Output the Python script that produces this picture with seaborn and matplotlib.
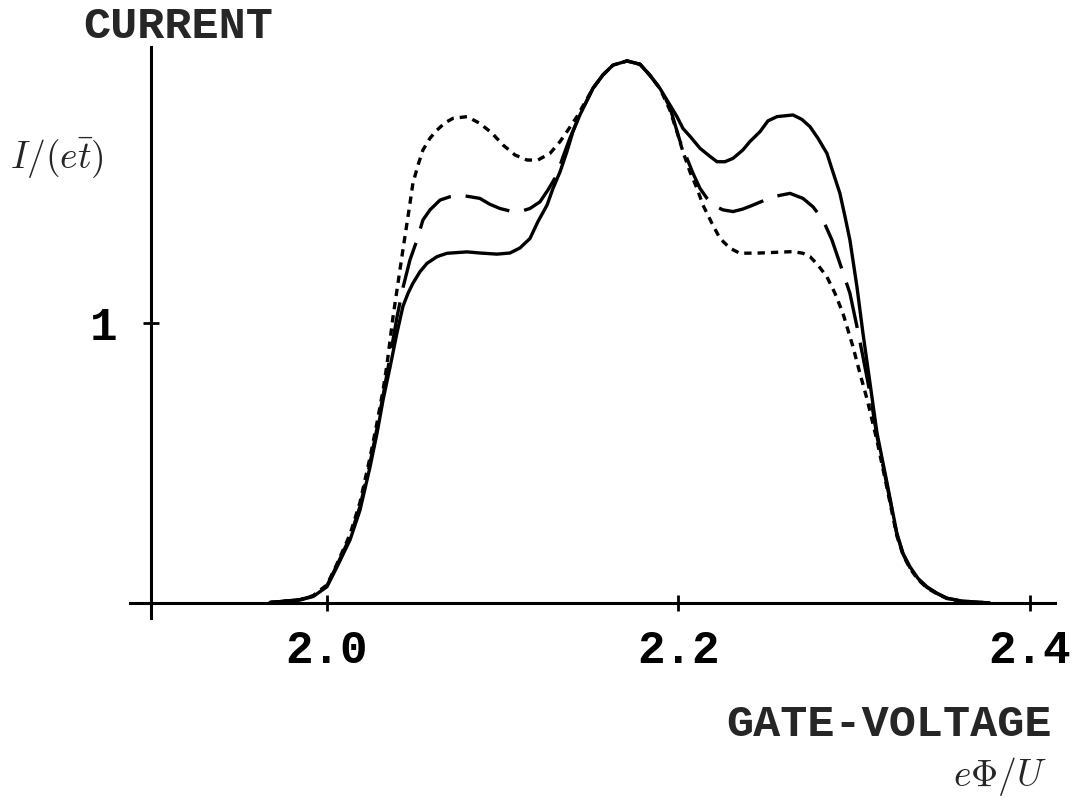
import matplotlib
matplotlib.use("Agg")
import matplotlib.pyplot as plt
import seaborn as sns
import pandas as pd

# Gate-voltage sweep values (e*Phi/U) and normalised current I/(e t) for three cases
x_solid = [1.9677, 1.9734, 1.9848, 1.9922, 2.0001, 2.0058, 2.0132, 2.0189, 2.0246, 2.0286,
           2.0320, 2.0360, 2.0399, 2.0433, 2.0462, 2.0490, 2.0530, 2.0570, 2.0627, 2.0684,
           2.0798, 2.0871, 2.0968, 2.1042, 2.1099, 2.1156, 2.1201, 2.1253, 2.1287, 2.1327,
           2.1366, 2.1400, 2.1440, 2.1514, 2.1571, 2.1628, 2.1708, 2.1782, 2.1838, 2.1895,
           2.1952, 2.1992, 2.2026, 2.2066, 2.2123, 2.2180, 2.2220, 2.2265, 2.2311, 2.2367,
           2.2407, 2.2464, 2.2510, 2.2561, 2.2652, 2.2703, 2.2749, 2.2794, 2.2845, 2.2879,
           2.2919, 2.2948, 2.2976, 2.3016, 2.3050, 2.3090, 2.3130, 2.3187, 2.3243, 2.3278,
           2.3317, 2.3363, 2.3414, 2.3471, 2.3528, 2.3602, 2.3699, 2.3772]
y_solid = [0.002, 0.005, 0.011, 0.023, 0.058, 0.129, 0.225, 0.332, 0.486, 0.607,
           0.725, 0.843, 0.964, 1.059, 1.106, 1.142, 1.183, 1.213, 1.237, 1.249,
           1.254, 1.250, 1.246, 1.250, 1.268, 1.302, 1.362, 1.421, 1.481, 1.540,
           1.612, 1.683, 1.743, 1.838, 1.886, 1.921, 1.936, 1.924, 1.885, 1.838,
           1.779, 1.737, 1.695, 1.667, 1.624, 1.595, 1.576, 1.576, 1.588, 1.618,
           1.648, 1.683, 1.722, 1.737, 1.743, 1.727, 1.701, 1.660, 1.606, 1.540,
           1.463, 1.380, 1.296, 1.129, 0.964, 0.786, 0.607, 0.429, 0.249, 0.177,
           0.130, 0.088, 0.058, 0.035, 0.017, 0.008, 0.003, 0.000]

x_dashed = [1.9677, 1.9734, 1.9848, 1.9922, 2.0001, 2.0058, 2.0132, 2.0189, 2.0246, 2.0286,
            2.0320, 2.0360, 2.0399, 2.0433, 2.0473, 2.0513, 2.0547, 2.0587, 2.0644, 2.0701,
            2.0758, 2.0871, 2.0928, 2.0985, 2.1042, 2.1099, 2.1156, 2.1213, 2.1258, 2.1309,
            2.1344, 2.1383, 2.1440, 2.1514, 2.1571, 2.1628, 2.1708, 2.1782, 2.1838, 2.1895,
            2.1952, 2.2009, 2.2049, 2.2083, 2.2123, 2.2163, 2.2197, 2.2254, 2.2311, 2.2367,
            2.2424, 2.2538, 2.2635, 2.2709, 2.2766, 2.2823, 2.2874, 2.2919, 2.2976, 2.3016,
            2.3050, 2.3090, 2.3130, 2.3187, 2.3243, 2.3278, 2.3317, 2.3363, 2.3414, 2.3471,
            2.3528, 2.3602, 2.3699, 2.3772]
y_dashed = [0.002, 0.005, 0.012, 0.025, 0.062, 0.135, 0.235, 0.345, 0.500, 0.625,
            0.740, 0.880, 1.020, 1.125, 1.225, 1.296, 1.368, 1.404, 1.439, 1.451,
            1.457, 1.445, 1.424, 1.409, 1.400, 1.398, 1.409, 1.433, 1.475, 1.529,
            1.594, 1.660, 1.745, 1.838, 1.886, 1.921, 1.936, 1.924, 1.885, 1.838,
            1.770, 1.650, 1.588, 1.535, 1.481, 1.445, 1.421, 1.404, 1.398, 1.407,
            1.421, 1.451, 1.463, 1.445, 1.415, 1.368, 1.296, 1.213, 1.106, 0.987,
            0.880, 0.750, 0.595, 0.420, 0.245, 0.175, 0.127, 0.086, 0.056, 0.034,
            0.017, 0.008, 0.003, 0.000]

x_dotted = [1.9677, 1.9734, 1.9848, 1.9922, 2.0001, 2.0058, 2.0132, 2.0189, 2.0246, 2.0286,
            2.0320, 2.0342, 2.0377, 2.0405, 2.0433, 2.0462, 2.0490, 2.0519, 2.0547, 2.0587,
            2.0627, 2.0672, 2.0718, 2.0798, 2.0871, 2.0940, 2.1002, 2.1071, 2.1139, 2.1201,
            2.1270, 2.1327, 2.1372, 2.1423, 2.1514, 2.1571, 2.1628, 2.1708, 2.1782, 2.1838,
            2.1895, 2.1952, 2.1992, 2.2026, 2.2066, 2.2106, 2.2140, 2.2191, 2.2237, 2.2294,
            2.2350, 2.2464, 2.2652, 2.2709, 2.2749, 2.2794, 2.2845, 2.2891, 2.2936, 2.2993,
            2.3033, 2.3073, 2.3130, 2.3187, 2.3243, 2.3278, 2.3317, 2.3363, 2.3414, 2.3471,
            2.3528, 2.3602, 2.3699, 2.3772]
y_dotted = [0.002, 0.005, 0.012, 0.026, 0.065, 0.140, 0.245, 0.360, 0.520, 0.645,
            0.760, 0.850, 1.023, 1.142, 1.261, 1.380, 1.499, 1.564, 1.618, 1.660,
            1.689, 1.715, 1.731, 1.737, 1.713, 1.678, 1.636, 1.600, 1.582, 1.582,
            1.606, 1.648, 1.689, 1.737, 1.838, 1.886, 1.921, 1.936, 1.924, 1.885,
            1.838, 1.760, 1.683, 1.612, 1.540, 1.481, 1.421, 1.356, 1.302, 1.267,
            1.249, 1.250, 1.255, 1.249, 1.237, 1.207, 1.165, 1.106, 1.035, 0.916,
            0.820, 0.729, 0.580, 0.410, 0.240, 0.172, 0.124, 0.084, 0.054, 0.033,
            0.016, 0.007, 0.003, 0.000]

x_ticks = [2.0, 2.2, 2.4]
x_tick_labels = ["2.0", "2.2", "2.4"]
y_ticks = [1]
y_tick_labels = ["1"]

sns.set_style("white")
plt.rcParams["mathtext.fontset"] = "cm"
mono = ["Liberation Mono", "DejaVu Sans Mono"]

W, H = 1073, 809
fig = plt.figure(figsize=(W / 100, H / 100), dpi=100)
ax = fig.add_axes([0, 0, 1, 1])
ax.set_facecolor("white")

lw = 2.4
curves = [
    (x_solid, y_solid, "-"),
    (x_dashed, y_dashed, (0, (14, 4.5))),
    (x_dotted, y_dotted, (0, (2.2, 1.8))),
]
for xs, ys, ls in curves:
    df = pd.DataFrame({"v": xs, "i": ys})
    sns.lineplot(data=df, x="v", y="i", ax=ax, color="black", linewidth=lw,
                 linestyle=ls, estimator=None, sort=False, legend=False)

# Frame the axes so that the crossing point sits where the axes meet
ax.set_xlim(1.8141, 2.4245)
ax.set_ylim(-0.7357, 2.1536)

for side in ("top", "right"):
    ax.spines[side].set_visible(False)
ax.spines["left"].set_position(("data", 1.9))
ax.spines["bottom"].set_position(("data", 0.0))
ax.spines["left"].set_bounds(-0.054, 1.986)
ax.spines["bottom"].set_bounds(1.888, 2.414)
for side in ("left", "bottom"):
    ax.spines[side].set_linewidth(2.2)
    ax.spines[side].set_color("black")

ax.set_xticks(x_ticks)
ax.set_xticklabels(x_tick_labels)
ax.set_yticks(y_ticks)
ax.set_yticklabels(y_tick_labels)
ax.tick_params(axis="both", bottom=True, left=True, direction="inout",
               width=2.0, colors="black", labelsize=33)
ax.tick_params(axis="x", length=11, pad=13)
ax.tick_params(axis="y", length=12, pad=18)
for lab in ax.get_xticklabels() + ax.get_yticklabels():
    lab.set_fontfamily(mono)
    lab.set_fontweight("bold")

ax.set_xlabel("")
ax.set_ylabel("")


def put(px, py, s, **kw):
    fig.text(px / W, 1 - py / H, s, ha="center", va="center", **kw)


put(178, 27, "CURRENT", fontsize=32.5, fontweight="bold", family=mono)
put(889, 725, "GATE-VOLTAGE", fontsize=32.5, fontweight="bold", family=mono)
put(57, 157, r"$I/(e\bar{t})$", fontsize=27)
put(1000, 776, r"$e\Phi/U$", fontsize=27)

fig.savefig("out.png", dpi=100, facecolor="white")
